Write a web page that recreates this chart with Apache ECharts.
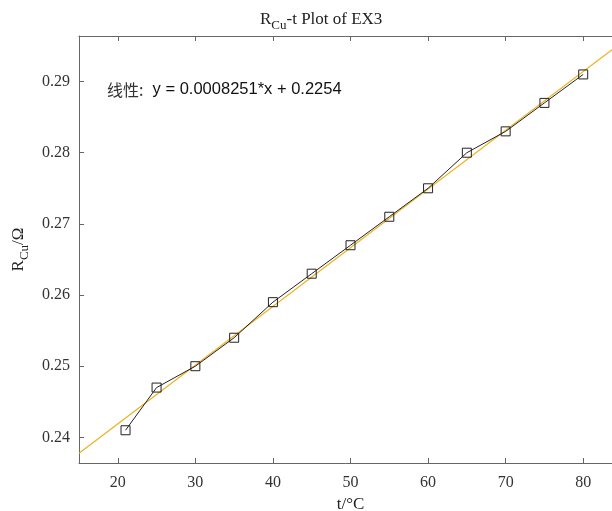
<!DOCTYPE html>
<html><head><meta charset="utf-8">
<script src="https://cdn.jsdelivr.net/npm/echarts@6/dist/echarts.min.js"></script>
<style>html,body{margin:0;padding:0;background:#fff}#c{width:612px;height:511px}</style>
</head><body><div id="c"></div>
<script>
const tValues = [21, 25, 30, 35, 40, 45, 50, 55, 60, 65, 70, 75, 80];
const rValues = [0.241, 0.247, 0.250, 0.254, 0.259, 0.263, 0.267, 0.271, 0.275, 0.280, 0.283, 0.287, 0.291];
const fitSlope = 0.0008251;
const fitIntercept = 0.2254;
const fitRange = [15, 85];
const xTicks = [20, 30, 40, 50, 60, 70, 80];
const yTicks = [0.24, 0.25, 0.26, 0.27, 0.28, 0.29];

const fitData = fitRange.map(x => [x, fitIntercept + fitSlope * x]);
const serif = 'Liberation Serif';
const axisCol = '#666';

const chart = echarts.init(document.getElementById('c'));
chart.setOption({
  animation: false,
  title: {
    text: '{r|R}{s|Cu}{r|-t Plot of EX3}',
    left: 255, top: 2,
    textStyle: {
      fontWeight: 'normal',
      rich: {
        r: {fontFamily: serif, fontSize: 17, fontWeight: 'normal', color: '#222'},
        s: {fontFamily: serif, fontSize: 13, fontWeight: 'normal', color: '#222', padding: [12, 0, 0, 0]}
      }
    }
  },
  grid: {left: 79, top: 36, width: 543, height: 427, containLabel: false, outerBoundsMode: 'none'},
  xAxis: [{
    type: 'value', min: 15, max: 85, interval: 5,
    axisLine: {show: true, lineStyle: {color: axisCol, width: 1}},
    axisTick: {show: true, inside: true, length: 5, lineStyle: {color: axisCol},
      customValues: xTicks},
    axisLabel: {customValues: xTicks, fontFamily: serif, fontSize: 16, color: '#333', margin: 12},
    splitLine: {show: false},
    name: 't/°C', nameLocation: 'middle', nameGap: 26,
    nameTextStyle: {fontFamily: serif, fontSize: 17, color: '#222'}
  }, {
    type: 'value', position: 'top', min: 15, max: 85,
    axisLine: {show: true, lineStyle: {color: axisCol, width: 1}},
    axisTick: {show: true, inside: true, length: 5, lineStyle: {color: axisCol}, customValues: xTicks},
    axisLabel: {show: false}, splitLine: {show: false}
  }],
  yAxis: [{
    type: 'value', min: 0.2364, max: 0.2964,
    axisLine: {show: true, lineStyle: {color: axisCol, width: 1}},
    axisTick: {show: true, inside: true, length: 5, lineStyle: {color: axisCol}, customValues: yTicks},
    axisLabel: {customValues: yTicks, fontFamily: serif, fontSize: 16, color: '#333', margin: 9,
      formatter: v => v.toFixed(2)},
    splitLine: {show: false},
    name: '{r|R}{s|Cu}{r|/Ω}', nameLocation: 'middle', nameGap: 45,
    nameTextStyle: {
      rich: {
        r: {fontFamily: serif, fontSize: 17, color: '#222'},
        s: {fontFamily: serif, fontSize: 13, color: '#222', padding: [12, 0, 0, 0]}
      }
    }
  }],
  series: [{
    type: 'line', data: fitData, xAxisIndex: 0, yAxisIndex: 0,
    showSymbol: false, lineStyle: {color: '#EDB120', width: 1.2}, z: 2
  }, {
    type: 'line', data: tValues.map((t, i) => [t, rValues[i]]),
    symbol: 'rect', symbolSize: 9,
    itemStyle: {color: 'rgba(255,255,255,0)', borderColor: '#222', borderWidth: 1},
    lineStyle: {color: '#222', width: 1}, z: 3
  }],
  graphic: [{
    type: 'text', left: 107, top: 81,
    style: {
      text: '{c|线性:}{a|  y = 0.0008251*x + 0.2254}',
      rich: {
        c: {fontFamily: 'Noto Sans CJK SC', fontSize: 16, fill: '#333'},
        a: {fontFamily: 'Liberation Sans', fontSize: 16.5, fill: '#111'}
      }
    }
  }]
});
</script></body></html>
